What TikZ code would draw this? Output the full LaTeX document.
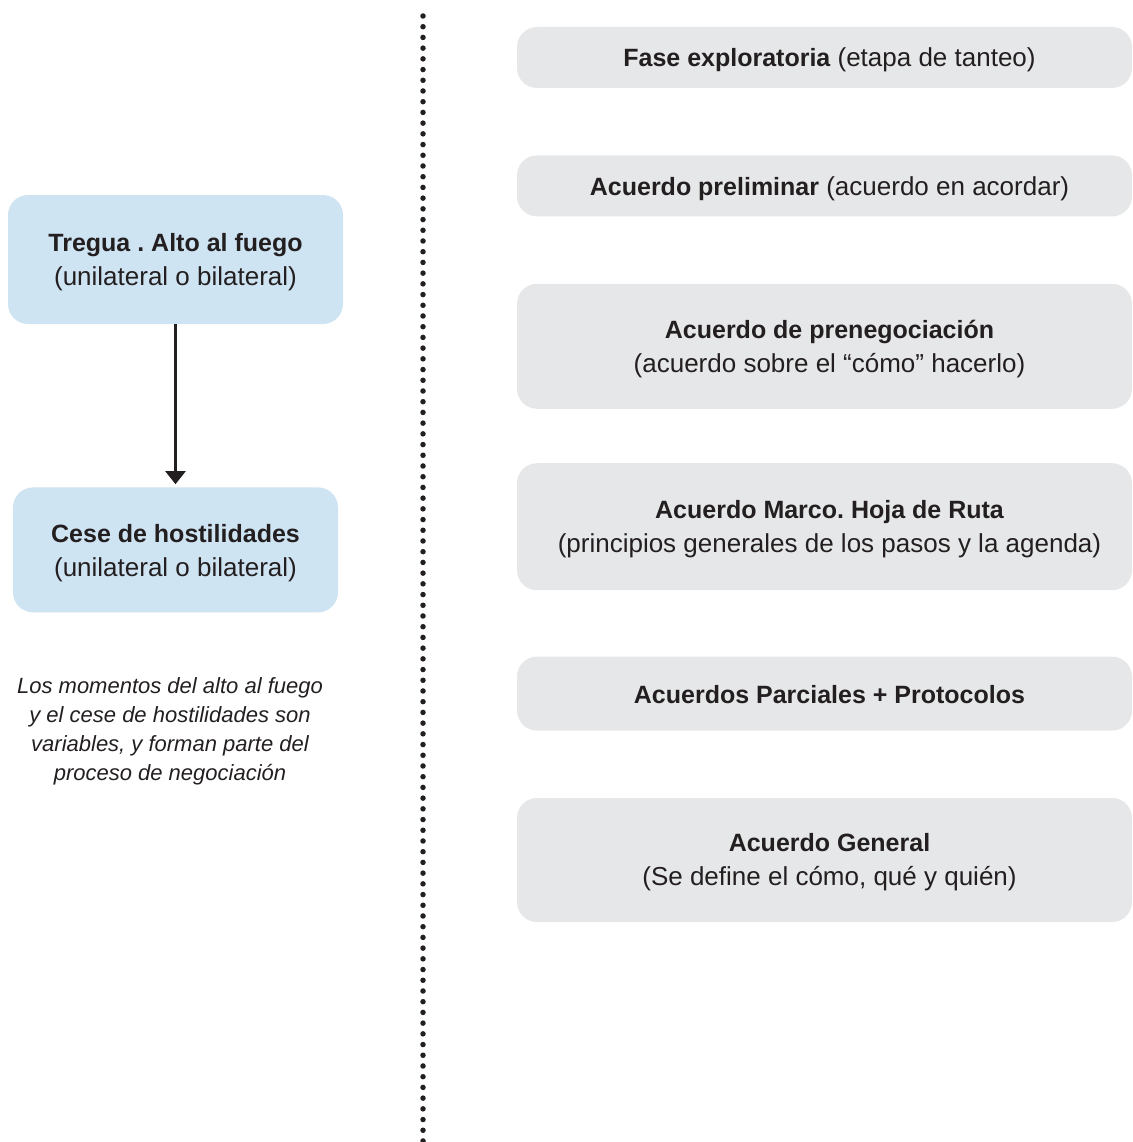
\documentclass[tikz,border=0pt]{standalone}
\usepackage{fontspec}
\setmainfont{Liberation Sans}
\usetikzlibrary{arrows.meta, positioning}
\definecolor{treguaBlue}{RGB}{207,228,242}
\definecolor{faseGray}{RGB}{230,231,232}
\definecolor{inkBlack}{RGB}{35,31,32}
\newcommand{\hd}[1]{{\fontsize{25}{34}\selectfont\bfseries #1}}
\frenchspacing

\begin{document}
\begin{tikzpicture}[
    x=1pt, y=-1pt,
    node distance=67pt,
    leftbox/.style={rectangle, rounded corners=20pt, fill=treguaBlue, text=inkBlack, align=center, font=\fontsize{26}{34}\selectfont},
    phase/.style={rectangle, rounded corners=20pt, fill=faseGray, minimum width=615pt},
    phasetext/.style={align=center, text=inkBlack, font=\fontsize{26}{34}\selectfont},
    note/.style={align=center, text=inkBlack, font=\fontsize{22}{29}\selectfont\itshape},
    arrow/.style={-{Triangle[width=20pt,length=13pt]}, line width=2.2pt, draw=inkBlack},
    separator/.style={line width=5.5pt, line cap=round, dash pattern=on 0pt off 10.714pt, draw=inkBlack}
]
\useasboundingbox (0,0) rectangle (1132,1142);

% Left column
\node[leftbox, minimum width=335pt, minimum height=129pt] (tregua) at (175.5,259.5)
    {\rule{0pt}{24pt}\hd{Tregua . Alto al fuego}\\(unilateral o bilateral)};
\node[leftbox, minimum width=325pt, minimum height=125pt, below=163pt of tregua] (cese)
    {\rule{0pt}{24pt}\hd{Cese de hostilidades}\\(unilateral o bilateral)};
\node[note] (nota) at (170,731)
    {Los momentos del alto al fuego\\y el cese de hostilidades son\\variables, y forman parte del\\proceso de negociación};

\draw[arrow, shorten >=3pt] (tregua) -- (cese);

% Separator
\coordinate (septop) at (423,16);
\coordinate (sepbot) at (423,1141);
\draw[separator] (septop) -- (sepbot);

% Phases
\node[phase, minimum height=61pt] (fase) at (824.5,57.5) {};
\node[phase, minimum height=61pt, below=of fase] (preliminar) {};
\node[phase, minimum height=125pt, below=of preliminar] (prenego) {};
\node[phase, minimum height=127pt, below=54pt of prenego] (marco) {};
\node[phase, minimum height=74pt, below=66pt of marco] (parciales) {};
\node[phase, minimum height=124pt, below=of parciales] (general) {};

\node[phasetext, yshift=-2.5pt] at ([xshift=5pt]fase.center) {\hd{Fase exploratoria} (etapa de tanteo)};
\node[phasetext, yshift=-2.5pt] at ([xshift=5pt]preliminar.center) {\hd{Acuerdo preliminar} (acuerdo en acordar)};
\node[phasetext, yshift=-2.5pt] at ([xshift=5pt]prenego.center) {\hd{Acuerdo de prenegociación}\\(acuerdo sobre el “cómo” hacerlo)};
\node[phasetext, yshift=-2.5pt] at ([xshift=5pt]marco.center) {\hd{Acuerdo Marco. Hoja de Ruta}\\(principios generales de los pasos y la agenda)};
\node[phasetext, yshift=-1pt] at ([xshift=5pt]parciales.center) {\hd{Acuerdos Parciales + Protocolos}};
\node[phasetext, yshift=-2.5pt] at ([xshift=5pt]general.center) {\hd{Acuerdo General}\\(Se define el cómo, qué y quién)};

\end{tikzpicture}
\end{document}
